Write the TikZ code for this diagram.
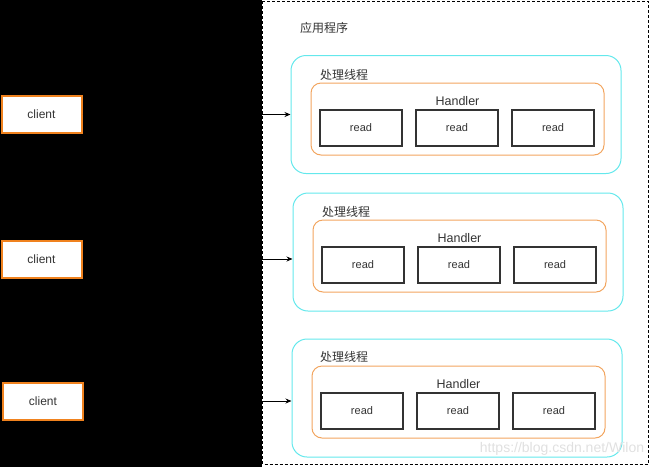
\documentclass[tikz,border=0pt]{standalone}
\usepackage{fontspec}
\setmainfont{Liberation Sans}
\newfontfamily\cjk{Noto Sans CJK SC}
\usetikzlibrary{positioning,arrows.meta}
\definecolor{clientorange}{RGB}{240,130,30}
\definecolor{handlerorange}{RGB}{242,165,95}
\definecolor{threadcyan}{RGB}{100,232,236}
\definecolor{textgray}{RGB}{51,51,51}
\tikzset{
  clientbox/.style={draw=clientorange,line width=2pt,fill=white,minimum width=80pt,minimum height=37pt,inner sep=0pt,font=\fontsize{12}{14}\selectfont,text=textgray},
  threadbox/.style={draw=threadcyan,line width=1pt,rounded corners=15pt,minimum width=330pt,minimum height=118pt,inner sep=0pt},
  handlerbox/.style={draw=handlerorange,line width=1pt,rounded corners=10pt,minimum width=293pt,minimum height=72pt,inner sep=0pt},
  readbox/.style={draw=textgray,line width=1.2pt,minimum width=82pt,minimum height=36pt,inner sep=0pt,font=\fontsize{11}{13}\selectfont,text=textgray},
  cjklabel/.style={font=\cjk\fontsize{12}{14}\selectfont,text=textgray,inner sep=0pt},
  handlerlabel/.style={font=\fontsize{12.5}{14}\selectfont,text=textgray,inner sep=0pt}
}
\begin{document}
\begin{tikzpicture}[x=1pt,y=-1pt]
\useasboundingbox (0,0) rectangle (650,467);
\fill[black] (0,0) rectangle (262,467);
\draw[black,line width=0.8pt,dash pattern=on 3pt off 2pt] (262.5,1) rectangle (648,464);
\node[cjklabel] (app) at (324,28) {应用程序};
% threads
\node[threadbox] (T1) at (456,114.5) {};
\node[threadbox] (T2) at (458,252) {};
\node[threadbox] (T3) at (457,398) {};
\node[cjklabel] (P1) at (344,75) {处理线程};
\node[cjklabel] (P2) at (346,212) {处理线程};
\node[cjklabel] (P3) at (344,357) {处理线程};
% handlers
\node[handlerbox] (H1) at (457.5,119) {};
\node[handlerbox] (H2) at (459.5,256) {};
\node[handlerbox] (H3) at (458.5,402) {};
\node[handlerlabel] (L1) at (457.5,101) {Handler};
\node[handlerlabel] (L2) at (459.5,238) {Handler};
\node[handlerlabel] (L3) at (458.5,384) {Handler};
% reads
\node[readbox] (R11) at (361,128) {read};
\node[readbox] (R12) at (457,128) {read};
\node[readbox] (R13) at (553,128) {read};
\node[readbox] (R21) at (363,265) {read};
\node[readbox] (R22) at (459,265) {read};
\node[readbox] (R23) at (555,265) {read};
\node[readbox] (R31) at (362,411) {read};
\node[readbox] (R32) at (458,411) {read};
\node[readbox] (R33) at (554,411) {read};
% clients
\node[clientbox] (C1) at (41.5,114.5) {client};
\node[clientbox] (C2) at (41.5,259) {client};
\node[clientbox] (C3) at (43,401) {client};
\draw[-{Stealth[length=6pt,width=5pt]},line width=0.8pt] (C1) -- (C1 -| T1.west);
\draw[-{Stealth[length=6pt,width=5pt]},line width=0.8pt] (C2) -- (C2 -| T2.west);
\draw[-{Stealth[length=6pt,width=5pt]},line width=0.8pt] (C3) -- (C3 -| T3.west);
\node[text=black!12,font=\fontsize{14}{16}\selectfont,inner sep=0pt] (W) at (562,449) {https://blog.csdn.net/Wilon};
\end{tikzpicture}
\end{document}
